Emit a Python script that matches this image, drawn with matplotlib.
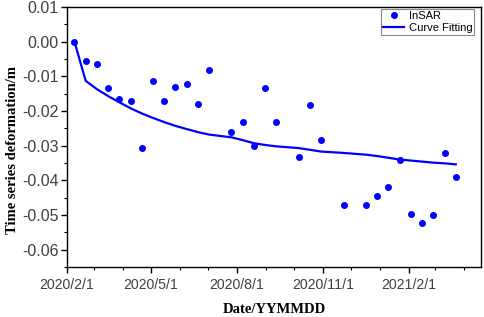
import pandas as pd
import matplotlib
matplotlib.use("Agg")
import matplotlib.pyplot as plt
import matplotlib.dates as mdates
from matplotlib.ticker import MultipleLocator

# InSAR acquisition dates (12-day revisit, some gaps)
dates = ["2020-02-09", "2020-02-21", "2020-03-04", "2020-03-16", "2020-03-28",
         "2020-04-09", "2020-04-21", "2020-05-03", "2020-05-15", "2020-05-27",
         "2020-06-08", "2020-06-20", "2020-07-02", "2020-07-26", "2020-08-07",
         "2020-08-19", "2020-08-31", "2020-09-12", "2020-10-06", "2020-10-18",
         "2020-10-30", "2020-11-23", "2020-12-17", "2020-12-29", "2021-01-10",
         "2021-01-22", "2021-02-03", "2021-02-15", "2021-02-27", "2021-03-11",
         "2021-03-23"]

# observed deformation (m)
insar = [0.0000, -0.0057, -0.0065, -0.0134, -0.0164,
         -0.0170, -0.0307, -0.0113, -0.0170, -0.0130,
         -0.0122, -0.0181, -0.0082, -0.0262, -0.0231,
         -0.0300, -0.0135, -0.0231, -0.0333, -0.0184,
         -0.0285, -0.0470, -0.0472, -0.0445, -0.0420,
         -0.0341, -0.0498, -0.0523, -0.0499, -0.0322,
         -0.0390]

# fitted curve (m)
fitted = [0.0000, -0.0113, -0.0137, -0.0157, -0.0175,
          -0.0192, -0.0207, -0.0220, -0.0232, -0.0243,
          -0.0252, -0.0261, -0.0268, -0.0276, -0.0284,
          -0.0293, -0.0298, -0.0302, -0.0307, -0.0312,
          -0.0317, -0.0321, -0.0326, -0.0330, -0.0335,
          -0.0340, -0.0343, -0.0346, -0.0349, -0.0351,
          -0.0354]

x = pd.to_datetime(dates)

fig = plt.figure(figsize=(4.84, 3.17), dpi=100)
ax = fig.add_axes([0.1384, 0.1577, 0.8554, 0.8203])

ax.plot(x, insar, "o", color="#0000ff", markersize=4.0, label="InSAR")
ax.plot(x, fitted, "-", color="#0000ff", linewidth=1.6, label="Curve Fitting")

ax.set_xlim(pd.Timestamp("2020-02-01"), pd.Timestamp("2021-04-19"))
ax.set_ylim(-0.065, 0.01)

ax.xaxis.set_major_locator(mdates.MonthLocator(bymonth=[2, 5, 8, 11]))
ax.xaxis.set_minor_locator(mdates.MonthLocator())
ax.xaxis.set_major_formatter(
    plt.FuncFormatter(lambda v, p: "{0.year}/{0.month}/{0.day}".format(mdates.num2date(v))))
ax.yaxis.set_major_locator(MultipleLocator(0.01))
ax.yaxis.set_minor_locator(MultipleLocator(0.005))
ax.yaxis.set_major_formatter(plt.FuncFormatter(lambda v, p: "{:.2f}".format(v).replace("-0.00", "0.00")))

for lab in ax.get_xticklabels() + ax.get_yticklabels():
    lab.set_family("Liberation Sans")
ax.tick_params(which="major", direction="out", length=4, width=1, labelcolor="#404040")
ax.tick_params(axis="x", which="major", labelsize=10.2, pad=4)
ax.tick_params(axis="y", which="major", labelsize=11.5, pad=2)
ax.tick_params(which="minor", direction="out", length=2.5, width=0.8)
for sp in ax.spines.values():
    sp.set_linewidth(1)

ax.set_xlabel("Date/YYMMDD", family="Liberation Serif", fontweight="bold", fontsize=10.5, labelpad=8)
ax.set_ylabel("Time series deformation/m", family="Liberation Serif", fontweight="bold", fontsize=10.5)
ax.yaxis.set_label_coords(-0.115, 0.45)

leg = ax.legend(loc="upper right", bbox_to_anchor=(0.984, 0.992),
                prop={"family": "Liberation Sans", "size": 8},
                fancybox=False, framealpha=1, edgecolor="#888888",
                borderpad=0.2, labelspacing=0.15, handlelength=1.9, handletextpad=0.4,
                borderaxespad=0.0)
leg.get_frame().set_linewidth(0.8)

fig.savefig("out.png", dpi=100)
